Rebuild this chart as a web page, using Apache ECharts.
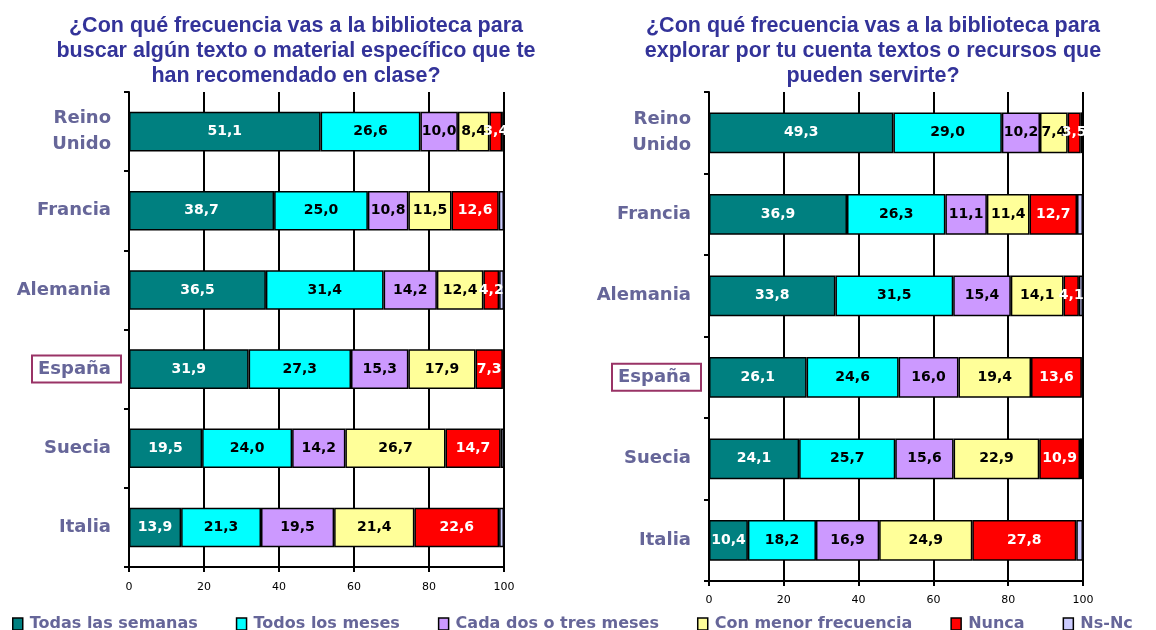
<!DOCTYPE html>
<html>
<head>
<meta charset="utf-8">
<script src="https://cdn.jsdelivr.net/npm/echarts@6/dist/echarts.min.js"></script>
<style>
  html, body { margin: 0; padding: 0; background: #fff; }
  #chart { width: 1156px; height: 630px; }
</style>
</head>
<body>
<div id="chart"></div>
<script>
// paises, de arriba abajo
const categories = ['Reino\nUnido', 'Francia', 'Alemania', 'España', 'Suecia', 'Italia'];
const seriesNames = ['Todas las semanas', 'Todos los meses', 'Cada dos o tres meses', 'Con menor frecuencia', 'Nunca', 'Ns-Nc'];
const xTicks = [0, 20, 40, 60, 80, 100];

// grafico izquierdo: material recomendado en clase
const recSemanas = [51.1, 38.7, 36.5, 31.9, 19.5, 13.9];
const recMeses = [26.6, 25.0, 31.4, 27.3, 24.0, 21.3];
const recDosTres = [10.0, 10.8, 14.2, 15.3, 14.2, 19.5];
const recMenor = [8.4, 11.5, 12.4, 17.9, 26.7, 21.4];
const recNunca = [3.4, 12.6, 4.2, 7.3, 14.7, 22.6];
const recNsNc = [0.5, 1.4, 1.3, 0.3, 0.9, 1.3];

// grafico derecho: explorar por tu cuenta
const expSemanas = [49.3, 36.9, 33.8, 26.1, 24.1, 10.4];
const expMeses = [29.0, 26.3, 31.5, 24.6, 25.7, 18.2];
const expDosTres = [10.2, 11.1, 15.4, 16.0, 15.6, 16.9];
const expMenor = [7.4, 11.4, 14.1, 19.4, 22.9, 24.9];
const expNunca = [3.5, 12.7, 4.1, 13.6, 10.9, 27.8];
const expNsNc = [0.6, 1.6, 1.1, 0.3, 0.8, 1.8];

const colors = ['#008080', '#00FFFF', '#CC99FF', '#FFFF99', '#FF0000', '#CCCCFF'];
const labelColors = ['#fff', '#000', '#000', '#000', '#fff', null];

const FONT = '"DejaVu Sans", Verdana, sans-serif';
const TITLE_FONT = '"Liberation Sans", Arial, sans-serif';

function makeSeries(values, idx) {
  return values.map(function (data, i) {
    return {
      name: seriesNames[i],
      type: 'bar',
      stack: 'g' + idx,
      xAxisIndex: idx,
      yAxisIndex: idx,
      barWidth: '50%',
      data: data,
      itemStyle: { color: colors[i], borderColor: '#000', borderWidth: 1.5 },
      label: {
        show: labelColors[i] !== null,
        position: 'inside',
        color: labelColors[i] || '#000',
        fontFamily: FONT,
        fontWeight: 'bold',
        fontSize: 14,
        formatter: function (p) { return p.value.toFixed(1).replace('.', ','); }
      }
    };
  });
}

function xAxis(idx, margin) {
  return {
    type: 'value', gridIndex: idx, min: 0, max: 100, interval: 20,
    axisLine: { show: true, lineStyle: { color: '#000', width: 2 } },
    axisTick: { show: true, length: 5, lineStyle: { color: '#000', width: 2 } },
    splitLine: { show: true, lineStyle: { color: '#000', width: 2 } },
    axisLabel: {
      margin: margin, color: '#000', fontSize: 11, fontFamily: FONT,
      formatter: function (v) { return xTicks.indexOf(v) >= 0 ? String(v) : ''; }
    }
  };
}

function yAxis(idx) {
  return {
    type: 'category', gridIndex: idx, data: categories, inverse: true,
    axisLine: { show: true, lineStyle: { color: '#000', width: 2 } },
    axisTick: { show: true, length: 5, lineStyle: { color: '#000', width: 2 } },
    splitLine: { show: false },
    axisLabel: {
      margin: 8,
      formatter: function (v) { return v === 'España' ? '{box|' + v + '}' : '{n|' + v + '}'; },
      rich: {
        n: { color: '#666699', fontFamily: FONT, fontWeight: 'bold', fontSize: 18, lineHeight: 26, align: 'right', padding: [0, 10, 0, 0] },
        box: { color: '#666699', fontFamily: FONT, fontWeight: 'bold', fontSize: 18, borderColor: '#993366', borderWidth: 2, padding: [5, 10, 4, 6] }
      }
    }
  };
}

function title(text, x) {
  return {
    text: text, left: x, top: 9, textAlign: 'center',
    textStyle: { color: '#333399', fontFamily: TITLE_FONT, fontWeight: 'bold', fontSize: 21.5, lineHeight: 25 }
  };
}

const chart = echarts.init(document.getElementById('chart'));
chart.setOption({
  animation: false,
  title: [
    title('¿Con qué frecuencia vas a la biblioteca para\nbuscar algún texto o material específico que te\nhan recomendado en clase?', 291),
    title('¿Con qué frecuencia vas a la biblioteca para\nexplorar por tu cuenta textos o recursos que\npueden servirte?', 868)
  ],
  legend: {
    data: seriesNames,
    left: 7, top: 611, width: 1400,
    icon: 'rect', itemWidth: 10, itemHeight: 12, itemGap: 38,
    itemStyle: { borderColor: '#000', borderWidth: 1.5 },
    textStyle: { color: '#666699', fontFamily: FONT, fontWeight: 'bold', fontSize: 16, padding: [0, 0, 0, 2] }
  },
  grid: [
    { left: 129, top: 92, width: 375, height: 475 },
    { left: 709, top: 92, width: 374, height: 489 }
  ],
  xAxis: [xAxis(0, 15), xAxis(1, 14)],
  yAxis: [yAxis(0), yAxis(1)],
  series: makeSeries([recSemanas, recMeses, recDosTres, recMenor, recNunca, recNsNc], 0)
    .concat(makeSeries([expSemanas, expMeses, expDosTres, expMenor, expNunca, expNsNc], 1))
});
</script>
</body>
</html>
